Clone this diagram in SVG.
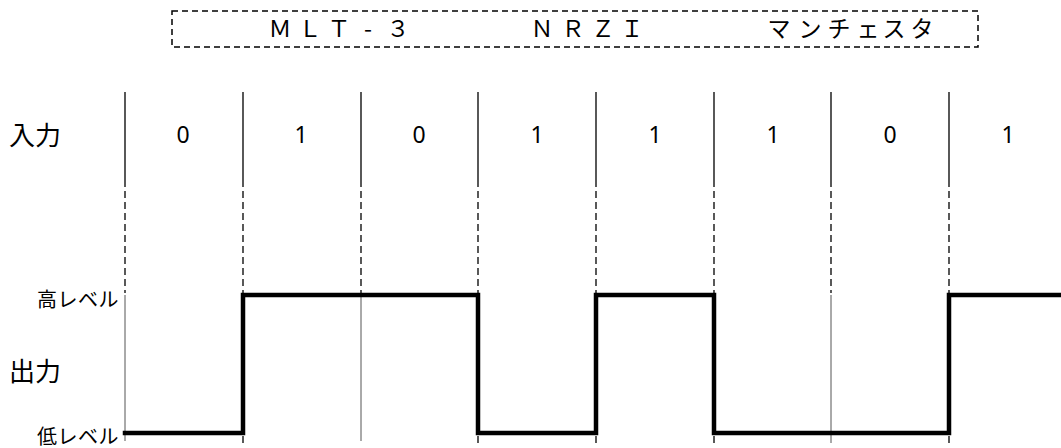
<svg xmlns="http://www.w3.org/2000/svg" width="1061" height="448" viewBox="0 0 1061 448">
<style>
.jp{font-family:"Noto Sans CJK JP","Noto Sans",sans-serif;fill:#000}
.t{font-size:23px;text-anchor:middle}
.big{font-size:26px}
.dig{font-family:"Noto Sans","Noto Sans CJK JP",sans-serif;font-size:23px;text-anchor:middle;fill:#000}
.lvl{font-size:20px;text-anchor:end;letter-spacing:0.5px}
.div{stroke:#000;stroke-width:1.3;fill:none}
.dash{stroke:#000;stroke-width:1.3;stroke-dasharray:7 4;fill:none}
.thin{stroke:#555;stroke-width:1;fill:none}
.sig{stroke:#000;stroke-width:4.5;fill:none;stroke-linejoin:miter;stroke-linecap:square}
</style>
<rect width="1061" height="448" fill="#fff"/>
<g id="legend">
<rect x="172" y="11" width="806" height="36" fill="none" stroke="#000" stroke-width="1.5" stroke-dasharray="6 4"/>
<text class="jp t" x="280 310 339 368 398" y="37">ＭＬＴ-３</text>
<text class="jp t" x="542 573 603 632" y="37">ＮＲＺＩ</text>
<text class="jp t" x="779 810 839 868 894 922" y="37">マンチェスタ</text>
</g>
<g id="labels">
<text class="jp big" x="9" y="145">入力</text>
<text class="jp big" x="9" y="381">出力</text>
<text class="jp lvl" x="119" y="307">高レベル</text>
<text class="jp lvl" x="119" y="444">低レベル</text>
</g>
<g id="bits">
<text class="dig" x="183" y="143">0</text>
<text class="dig" x="301" y="143">1</text>
<text class="dig" x="419" y="143">0</text>
<text class="dig" x="537" y="143">1</text>
<text class="dig" x="655" y="143">1</text>
<text class="dig" x="773" y="143">1</text>
<text class="dig" x="890" y="143">0</text>
<text class="dig" x="1008" y="143">1</text>
</g>
<g id="connectors">
<path class="div" d="M125 92V180M243 92V180M361 92V180M478 92V180M596 92V180M714 92V180M831 92V180M949 92V180"/>
<path class="dash" d="M125 180V293M243 180V293M361 180V293M478 180V293M596 180V293M714 180V293M831 180V293M949 180V293"/>
<path class="thin" d="M125 295V441M361 295V441M831 295V443"/>
<path class="dash" d="M243 436V446M478 436V446M596 436V446M714 436V446M949 436V446"/>
</g>
<g id="signal">
<path class="sig" d="M125 433H243V295H478V433H596V295H714V433H949V295H1063"/>
</g>
</svg>
